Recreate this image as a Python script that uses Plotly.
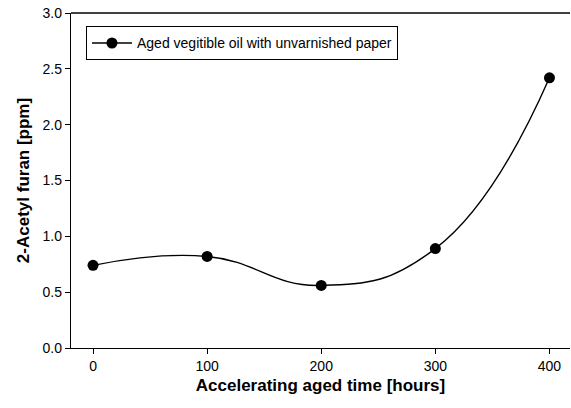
import plotly.graph_objects as go

hours = [0, 100, 200, 300, 400]
acetyl_furan = [0.74, 0.82, 0.56, 0.89, 2.42]
series_name = "Aged vegitible oil with unvarnished paper"
x_ticks = [0, 100, 200, 300, 400]
y_ticks = [0.0, 0.5, 1.0, 1.5, 2.0, 2.5, 3.0]

fig = go.Figure()
fig.add_trace(go.Scatter(
    x=hours, y=acetyl_furan, mode="lines+markers", name=series_name,
    line=dict(color="black", width=1.4, shape="spline", smoothing=1.3),
    marker=dict(color="black", size=11),
))

font = "Liberation Sans, Arial, sans-serif"
fig.update_layout(
    width=571, height=408,
    margin=dict(l=71, r=1, t=13, b=60),
    paper_bgcolor="white", plot_bgcolor="white",
    font=dict(family=font, color="black", size=14),
    showlegend=True,
    legend=dict(x=0.03, y=0.96, xanchor="left", yanchor="top",
                bordercolor="black", borderwidth=1, bgcolor="white",
                font=dict(size=14), itemwidth=40),
    xaxis=dict(range=[-19.3, 418], tickvals=x_ticks,
               ticktext=[str(v) for v in x_ticks],
               tickfont=dict(size=14),
               showgrid=False, zeroline=False, showline=True,
               linecolor="black", linewidth=1.4, mirror=False,
               ticks="outside", ticklen=5, tickcolor="black",
               title=dict(text="<b>Accelerating aged time [hours]</b>",
                          font=dict(size=17), standoff=6)),
    yaxis=dict(range=[0, 3.0], tickvals=y_ticks,
               ticktext=[f"{v:.1f}" for v in y_ticks],
               tickfont=dict(size=14),
               showgrid=False, zeroline=False, showline=True,
               linecolor="black", linewidth=1.4,
               ticks="outside", ticklen=5, tickcolor="black",
               title=dict(text="<b>2-Acetyl furan [ppm]</b>",
                          font=dict(size=17), standoff=8)),
)
fig.add_shape(type="line", xref="paper", yref="paper", x0=0, x1=1, y0=1, y1=1,
              line=dict(color="black", width=1.4))

fig.write_html("out.html")
